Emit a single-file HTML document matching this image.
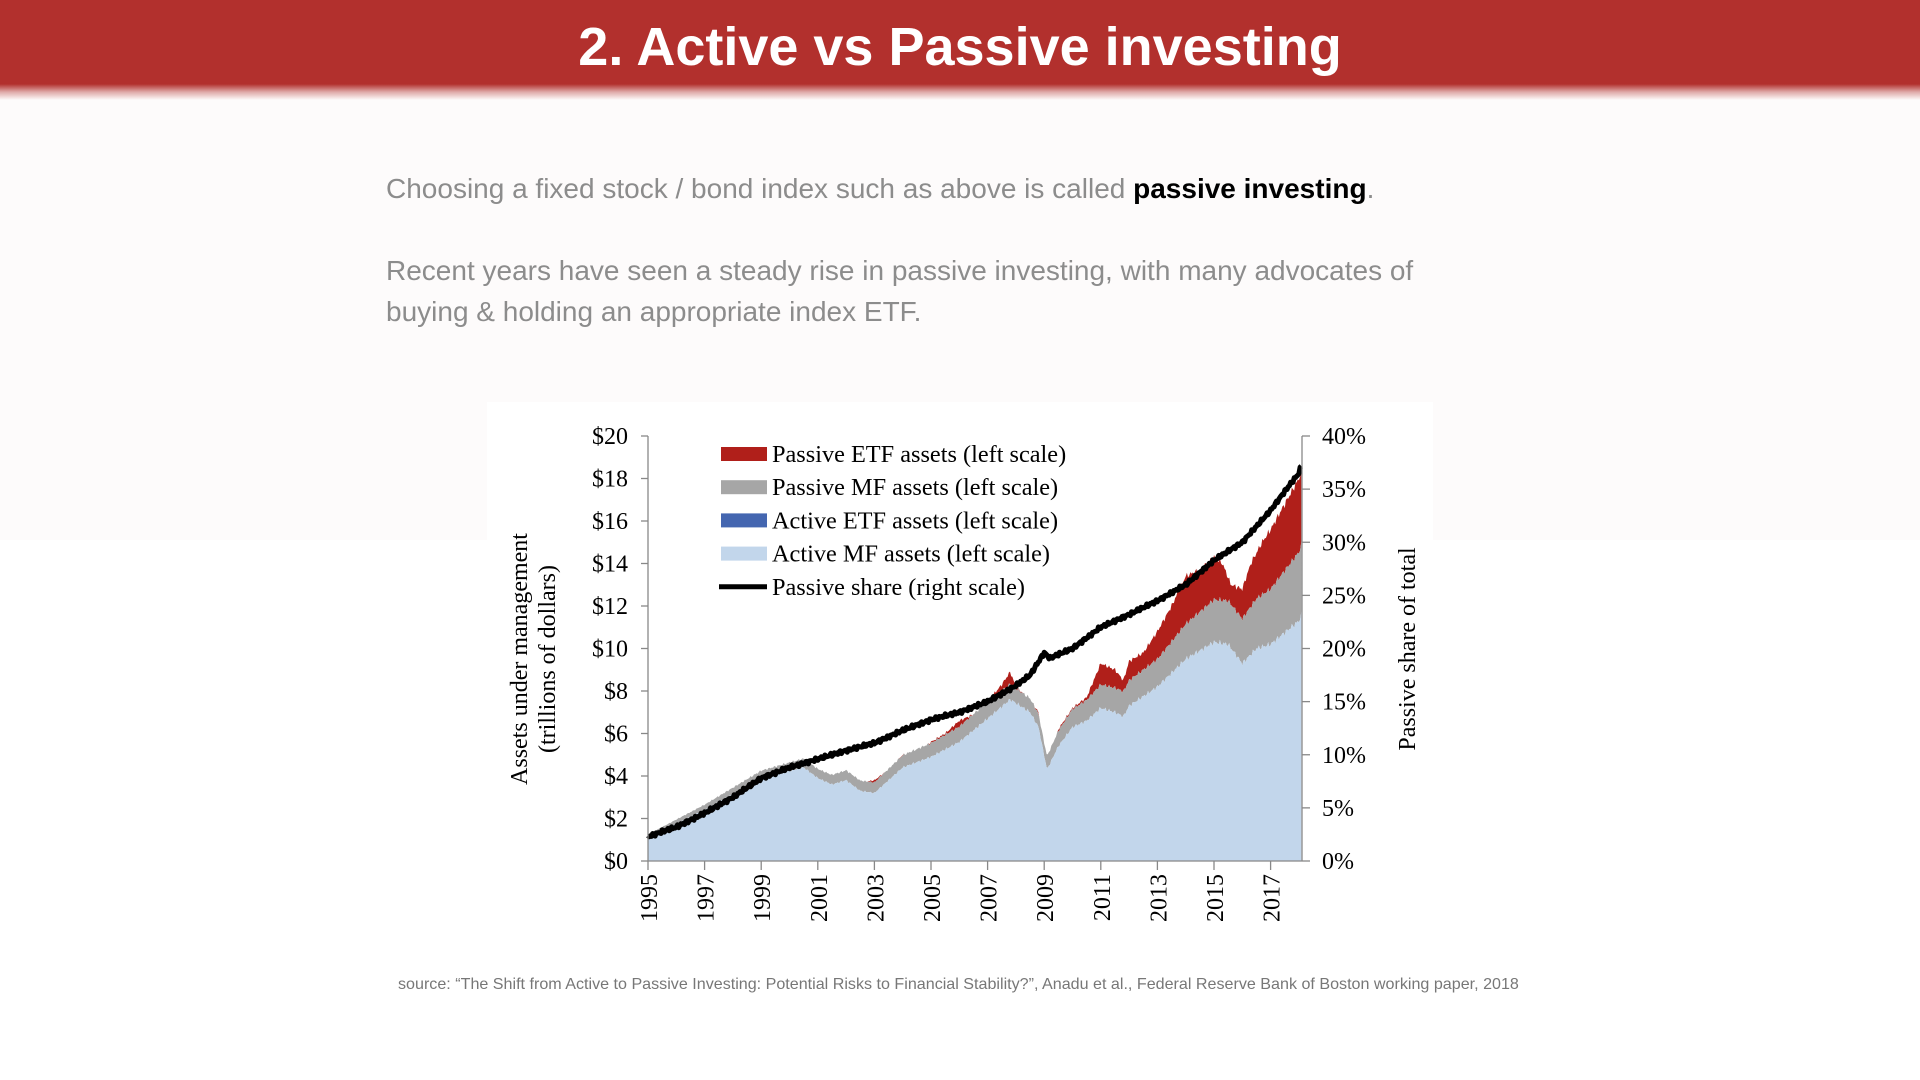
<!DOCTYPE html>
<html><head><meta charset="utf-8"><style>
body{margin:0;width:1920px;height:1080px;overflow:hidden;background:#fff;font-family:"Liberation Sans",sans-serif;position:relative}
.top{position:absolute;left:0;top:0;width:1920px;height:540px;background:#fdfbfb}
.banner{position:absolute;left:0;top:0;width:1920px;height:100px;background:linear-gradient(to bottom,#b2302d 0,#b2302d 84px,rgba(178,48,45,0.4) 92px,rgba(253,251,251,0) 100px)}
.title{position:absolute;left:0;width:1920px;top:11px;text-align:center;color:#fff;font-size:54px;line-height:72px;font-weight:bold}
.p{position:absolute;left:386px;color:#8c8c8c;font-size:28px;line-height:41px}
.p b{color:#000}
.src{position:absolute;left:398px;top:975px;font-size:16.1px;color:#777}
svg{position:absolute;left:0;top:0}
</style></head><body>
<div class="top"></div>
<div class="banner"></div>
<div class="title">2. Active vs Passive investing</div>
<div class="p" style="top:168px">Choosing a fixed stock / bond index such as above is called <b>passive investing</b>.</div>
<div class="p" style="top:250px">Recent years have seen a steady rise in passive investing, with many advocates of<br>buying &amp; holding an appropriate index ETF.</div>
<svg width="1920" height="1080" id="s" font-family="Liberation Serif, serif">
<rect x="487" y="402" width="946" height="541" fill="#fff"/>
<g id="g"></g>
</svg>
<div class="src">source: “The Shift from Active to Passive Investing: Potential Risks to Financial Stability?”, Anadu et al., Federal Reserve Bank of Boston working paper, 2018</div>
<script>
const X=y=>648+(y-1995)*28.3, YV=v=>861-v*21.25, YS=s=>861-s*10.625;
const tot=[[1995,1.2],[1996,1.9],[1997,2.5],[1998,3.3],[1999,4.1],[2000,4.6],[2000.5,4.8],[2001,4.3],[2001.5,3.9],[2002,4.2],[2002.5,3.7],[2003,3.8],[2003.5,4.3],[2004,5.0],[2004.5,5.1],[2005,5.6],[2005.5,6.0],[2006,6.6],[2006.5,6.9],[2007,7.5],[2007.5,8.3],[2007.8,8.9],[2008,8.2],[2008.5,7.6],[2008.8,7.0],[2009,5.0],[2009.2,4.8],[2009.5,6.2],[2010,7.2],[2010.5,7.7],[2011,9.3],[2011.5,9.0],[2011.8,8.5],[2012,9.4],[2012.5,9.8],[2013,10.8],[2013.5,12.0],[2014,13.4],[2014.5,13.7],[2015,14.3],[2015.3,14.0],[2015.6,13.0],[2016,12.8],[2016.3,14.0],[2016.7,15.0],[2017,15.6],[2017.5,16.8],[2018,18.0],[2018.1,18.4]];
const blu=[[1995,1.1],[1997,2.4],[1999,3.9],[2000.5,4.4],[2001,3.9],[2001.5,3.6],[2002,3.8],[2002.5,3.3],[2003,3.2],[2003.5,3.8],[2004,4.4],[2005,4.9],[2006,5.6],[2007,6.7],[2007.8,7.6],[2008.5,7.0],[2008.8,6.3],[2009.1,4.3],[2009.5,5.4],[2010,6.3],[2010.5,6.6],[2011,7.2],[2011.5,7.0],[2011.8,6.8],[2012,7.3],[2013,8.2],[2014,9.5],[2015,10.3],[2015.5,10.2],[2016,9.3],[2016.5,10.0],[2017,10.2],[2018,11.3],[2018.1,11.6]];
const gad=[[1995,0.15],[2000,0.4],[2003,0.5],[2007,0.8],[2009,0.6],[2011,1.1],[2013,1.3],[2015,2.0],[2016,2.1],[2017,2.6],[2018.1,3.3]];
const sh=[[1995,2.3],[1996,3.2],[1997,4.5],[1998,6.0],[1999,7.8],[2000,8.8],[2001,9.6],[2002,10.4],[2003,11.1],[2004,12.3],[2005,13.3],[2006,14.0],[2007,15.0],[2008,16.5],[2008.5,17.5],[2009,19.6],[2009.2,19.1],[2010,20.0],[2011,22.0],[2012,23.2],[2013,24.5],[2014,26.0],[2015,28.3],[2016,30.0],[2017,33.0],[2017.5,34.8],[2018,36.5],[2018.1,37.4]];
function f(a,t){for(let i=0;i<a.length-1;i++){if(t<=a[i+1][0]){const r=(t-a[i][0])/(a[i+1][0]-a[i][0]);return a[i][1]+r*(a[i+1][1]-a[i][1]);}}return a[a.length-1][1];}
const T=[];for(let t=1995;t<=2018.1001;t+=1/24)T.push(Math.min(t,2018.1));
const j=(t,k)=>Math.sin(t*37.1+k)*0.5+Math.sin(t*91.7+k*2)*0.5;
const B=T.map(t=>f(blu,t)*(1+0.015*j(t,1)));
const G=T.map((t,i)=>B[i]+f(gad,t));
const TT=T.map((t,i)=>Math.max(G[i],f(tot,t)*(1+0.012*j(t,1))));
function area(top,bot){let d='M'+T.map((t,i)=>X(t).toFixed(1)+','+YV(top[i]).toFixed(1)).join('L');for(let i=T.length-1;i>=0;i--)d+='L'+X(T[i]).toFixed(1)+','+YV(bot[i]).toFixed(1);return d+'Z';}
const Z=T.map(()=>0);
let h='';
h+=`<path d="${area(TT,G)}" fill="#b01f1a"/>`;
h+=`<path d="${area(G,B)}" fill="#a6a6a6"/>`;
h+=`<path d="${area(B,Z)}" fill="#c2d6eb"/>`;
const ls='M'+T.map(t=>X(t).toFixed(1)+','+YS(f(sh,t)+0.2*j(t,3)).toFixed(1)).join('L');
h+=`<path d="${ls}" fill="none" stroke="#000" stroke-width="5" stroke-linejoin="round"/>`;
h+=`<g stroke="#888" stroke-width="1.3" fill="none"><path d="M648,436V861H1302M1302,436V861"/>`;
for(let v=0;v<=20;v+=2)h+=`<path d="M641,${YV(v)}H648"/>`;
for(let s=0;s<=40;s+=5)h+=`<path d="M1302,${YS(s)}H1310"/>`;
for(let y=1995;y<=2017;y+=2)h+=`<path d="M${X(y)},861V870"/>`;
h+='</g>';
for(let v=0;v<=20;v+=2)h+=`<text x="628" y="${YV(v)+8}" font-size="24" text-anchor="end">$${v}</text>`;
for(let s=0;s<=40;s+=5)h+=`<text x="1322" y="${YS(s)+8}" font-size="24">${s}%</text>`;
for(let y=1995;y<=2017;y+=2)h+=`<text transform="translate(${X(y)+9},874) rotate(-90)" font-size="24" text-anchor="end">${y}</text>`;
h+=`<text transform="translate(527,659) rotate(-90)" font-size="24" text-anchor="middle">Assets under management</text>`;
h+=`<text transform="translate(555,659) rotate(-90)" font-size="24" text-anchor="middle">(trillions of dollars)</text>`;
h+=`<text transform="translate(1415,649) rotate(-90)" font-size="24" text-anchor="middle">Passive share of total</text>`;
const leg=[['#b01f1a','Passive ETF assets (left scale)'],['#a6a6a6','Passive MF assets (left scale)'],['#4466b0','Active ETF assets (left scale)'],['#c2d6eb','Active MF assets (left scale)'],['line','Passive share (right scale)']];
leg.forEach((l,i)=>{const y=454+i*33.2;
 if(l[0]=='line')h+=`<path d="M719,${y}H767" stroke="#000" stroke-width="5"/>`;
 else h+=`<rect x="721" y="${y-7}" width="46" height="14" fill="${l[0]}"/>`;
 h+=`<text x="772" y="${y+8}" font-size="24.3">${l[1]}</text>`;});
document.getElementById('g').innerHTML=h;
</script>
</body></html>
